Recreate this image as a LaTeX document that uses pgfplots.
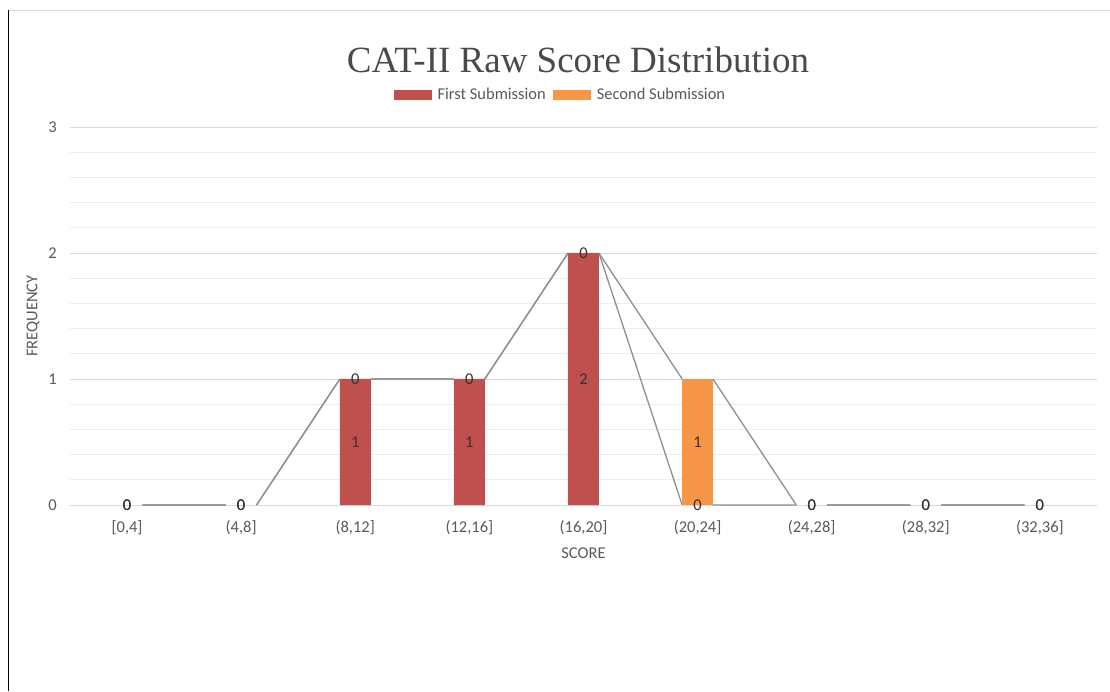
\documentclass[border=0pt]{standalone}
\usepackage{fontspec}
\setmainfont{Carlito}
\newfontfamily\titlefont{Liberation Serif}
\usepackage{pgfplots}
\pgfplotsset{compat=1.18}
\definecolor{firstc}{HTML}{C0504D}
\definecolor{secondc}{HTML}{F79646}
\definecolor{txt}{HTML}{595959}
\definecolor{ttl}{HTML}{4A4A4A}
\definecolor{lbl}{HTML}{333333}
\definecolor{majgrid}{HTML}{D9D9D9}
\definecolor{mingrid}{HTML}{EDEDED}
\definecolor{serline}{HTML}{8F8F8F}
\pgfplotsset{
  base/.style={at={(70pt,186pt)}, anchor=south west, scale only axis,
    width=1027pt, height=378pt, xmin=-0.5, xmax=8.5, ymin=0, ymax=3, clip=false},
}
\newcommand\lf{\fontsize{16.5}{18}\selectfont}
\begin{document}
\begin{tikzpicture}[x=1pt,y=1pt]
\useasboundingbox (0,0) rectangle (1110,691);
\draw[black, line width=1.3pt] (8.5,0) -- (8.5,681);
\draw[majgrid, line width=0.8pt] (8.5,681) -- (1110,681);
\node[anchor=base, text=ttl, font=\titlefont\fontsize{37}{44}\selectfont] at (578,618) {CAT-II Raw Score Distribution};
% axis A: grid, ticks, labels, series lines
\begin{axis}[base,
  axis line style={draw=none}, tick style={draw=none},
  ymajorgrids, yminorgrids, minor y tick num=4,
  major grid style={majgrid, line width=0.9pt},
  minor grid style={mingrid, line width=0.8pt},
  ytick={0,1,2,3},
  xtick={0,...,8},
  xticklabels={{[0,4]},{(4,8]},{(8,12]},{(12,16]},{(16,20]},{(20,24]},{(24,28]},{(28,32]},{(32,36]}},
  ticklabel style={font=\lf, text=txt, inner sep=0pt},
  /pgf/number format/assume math mode=true,
  xticklabel style={anchor=base, yshift=-27pt},
  yticklabel style={anchor=east, xshift=-13pt},
  xlabel={SCORE}, ylabel={FREQUENCY},
  label style={font=\lf, text=txt},
  xlabel style={at={(axis description cs:0.5,-0.127)}, anchor=center},
  ylabel style={at={(axis description cs:-0.036,0.5)}, anchor=center},
  unbounded coords=jump,
]
\addplot[serline, line width=1.3pt] coordinates {
  (0.135,0) (0.865,0) (1,nan)
  (1.135,0) (1.865,1) (2,nan)
  (2.135,1) (2.865,1) (3,nan)
  (3.135,1) (3.865,2) (4,nan)
  (4.135,2) (4.865,0) (5,nan)
  (5.135,0) (5.865,0) (6,nan)
  (6.135,0) (6.865,0) (7,nan)
  (7.135,0) (7.865,0)
};
\addplot[serline, line width=1.3pt] coordinates {
  (0.135,0) (0.865,0) (1,nan)
  (1.135,0) (1.865,1) (2,nan)
  (2.135,1) (2.865,1) (3,nan)
  (3.135,1) (3.865,2) (4,nan)
  (4.135,2) (4.865,1) (5,nan)
  (5.135,1) (5.865,0) (6,nan)
  (6.135,0) (6.865,0) (7,nan)
  (7.135,0) (7.865,0)
};
\end{axis}
% axis B: stacked bars + legend
\begin{axis}[base, hide axis,
  ybar stacked, bar width=31pt,
  legend style={at={(axis description cs:0.4775,1.0847)}, anchor=center,
    draw=none, fill=none, legend columns=2, inner sep=0pt,
    font=\lf, text=txt,
    /tikz/every even column/.append style={column sep=5pt}},
  legend cell align=left,
]
\addplot[fill=firstc, draw=none,
  legend image code/.code={\fill[firstc] (0pt,-5pt) rectangle (38pt,5pt); \path (42pt,0pt);}]
  coordinates {(0,0) (1,0) (2,1) (3,1) (4,2) (5,0) (6,0) (7,0) (8,0)};
\addlegendentry{First Submission}
\addplot[fill=secondc, draw=none,
  legend image code/.code={\fill[secondc] (0pt,-5pt) rectangle (38pt,5pt); \path (42pt,0pt);}]
  coordinates {(0,0) (1,0) (2,0) (3,0) (4,0) (5,1) (6,0) (7,0) (8,0)};
\addlegendentry{Second Submission}
\end{axis}
% axis C: data labels
\begin{axis}[base, hide axis,
  nodes near coords, point meta=explicit symbolic,
  nodes near coords align=center,
  every node near coord/.style={anchor=center, inner sep=0pt, text=lbl, font=\lf},
]
\addplot[only marks, mark options={draw=none, fill=none}] coordinates {
  (0,0)[0] (1,0)[0] (2,0.5)[1] (3,0.5)[1] (4,1)[2] (5,0)[0] (6,0)[0] (7,0)[0] (8,0)[0]};
\addplot[only marks, mark options={draw=none, fill=none}] coordinates {
  (0,0)[0] (1,0)[0] (2,1)[0] (3,1)[0] (4,2)[0] (5,0.5)[1] (6,0)[0] (7,0)[0] (8,0)[0]};
\end{axis}
\end{tikzpicture}
\end{document}
